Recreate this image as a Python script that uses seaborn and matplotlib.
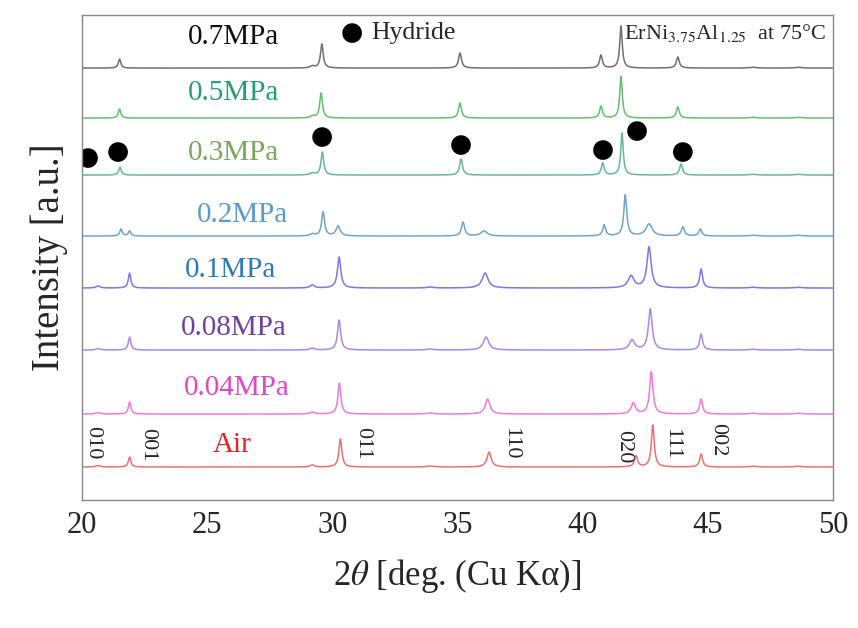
import numpy as np
import pandas as pd
import matplotlib
matplotlib.use("Agg")
import matplotlib.pyplot as plt
import seaborn as sns

sns.set_style("white")
plt.rcParams['font.family'] = 'serif'
plt.rcParams['font.serif'] = ['Liberation Serif', 'DejaVu Serif']
plt.rcParams['mathtext.fontset'] = 'stix'

# ---------------------------------------------------------------------------
# data: peak position (deg), peak height (a.u.), FWHM (deg)
# ---------------------------------------------------------------------------
labels = ['Air', '0.04MPa', '0.08MPa', '0.1MPa', '0.2MPa', '0.3MPa', '0.5MPa', '0.7MPa']
offsets = [33, 86, 150, 212, 264, 325, 382, 432]

peaks_air = [(20.64, 1.5, 0.2), (21.90, 10, 0.12), (29.20, 2, 0.2), (30.32, 28, 0.14),
             (33.90, 1, 0.3), (36.26, 15, 0.2), (42.13, 11, 0.15), (42.80, 42, 0.14),
             (44.73, 13, 0.14), (46.8, 0.8, 0.3), (48.6, 0.8, 0.3)]
peaks_004 = [(20.64, 1.5, 0.2), (21.90, 12, 0.12), (29.20, 2, 0.2), (30.28, 31, 0.14),
             (33.90, 1, 0.3), (36.20, 15, 0.22), (42.02, 11, 0.2), (42.74, 42, 0.16),
             (44.73, 15, 0.14), (46.8, 0.8, 0.3), (48.6, 0.8, 0.3)]
peaks_008 = [(20.64, 1.5, 0.2), (21.90, 13, 0.12), (29.20, 2, 0.2), (30.27, 30, 0.15),
             (33.90, 1, 0.3), (36.14, 13, 0.26), (41.97, 10, 0.25), (42.70, 41, 0.18),
             (44.73, 16, 0.14), (46.8, 0.8, 0.3), (48.6, 0.8, 0.3)]
peaks_01 = [(20.64, 2, 0.2), (21.90, 15, 0.12), (29.20, 3, 0.2), (30.27, 31, 0.16),
            (33.90, 1, 0.3), (36.10, 15, 0.28), (41.93, 12, 0.28), (42.65, 41, 0.2),
            (44.73, 19, 0.14), (46.8, 0.8, 0.3), (48.6, 0.8, 0.3)]
peaks_02 = [(21.56, 7, 0.12), (21.90, 5, 0.12), (29.20, 2, 0.2), (29.63, 24, 0.14),
            (30.23, 10, 0.2), (35.22, 14, 0.15), (36.06, 5, 0.3), (40.86, 11, 0.14),
            (41.70, 41, 0.14), (42.65, 12, 0.3), (44.00, 9, 0.15), (44.70, 7, 0.14),
            (46.8, 0.8, 0.3), (48.6, 0.8, 0.3)]
peaks_03 = [(21.52, 8, 0.12), (29.20, 2, 0.2), (29.60, 23, 0.13), (35.14, 16, 0.14),
            (40.80, 12, 0.13), (41.57, 42, 0.12), (43.93, 11, 0.14),
            (46.8, 0.8, 0.3), (48.6, 0.8, 0.3)]
peaks_05 = [(21.50, 9, 0.12), (29.20, 2, 0.2), (29.55, 25, 0.13), (35.10, 15, 0.14),
            (40.73, 12, 0.13), (41.53, 42, 0.12), (43.80, 11, 0.14),
            (46.8, 0.8, 0.3), (48.6, 0.8, 0.3)]
peaks_07 = [(21.50, 9, 0.12), (29.20, 2, 0.2), (29.58, 24, 0.13), (35.10, 15, 0.14),
            (40.73, 13, 0.13), (41.53, 42, 0.12), (43.80, 11, 0.14),
            (46.8, 0.8, 0.3), (48.6, 0.8, 0.3)]
all_peaks = [peaks_air, peaks_004, peaks_008, peaks_01, peaks_02, peaks_03, peaks_05, peaks_07]

line_colors = ['#f07070', '#f07ae0', '#a888ec', '#7a78ec', '#6fa6c6', '#62b89c', '#62c070', '#707070']
text_colors = ['#e8202a', '#e444c8', '#7040a0', '#2e7ab8', '#5a9ad2', '#78a85a', '#20a070', '#101010']
label_x = [26.0, 26.18, 26.05, 25.93, 26.4, 26.05, 26.07, 26.07]
label_y = [55, 112, 172, 230, 285, 347, 407, 463]

# hydride markers (2theta, height)
dot_x = [20.24, 21.44, 29.59, 35.14, 40.81, 42.17, 44.00]
dot_y = [342, 348, 363, 355, 350, 369, 348]

# Miller indices for the air pattern
hkl = ['010', '001', '011', '110', '020', '111', '002']
hkl_x = [20.44, 22.62, 31.22, 37.12, 41.65, 43.57, 45.37]
hkl_y = [57, 55, 57, 57, 53, 56, 60]

# ---------------------------------------------------------------------------
two_theta = np.arange(20.0, 50.0, 0.01)


def profile(peaks):
    y = np.zeros_like(two_theta)
    for pos, h, w in peaks:
        g = w / 2.0
        y += h * g**2 / ((two_theta - pos)**2 + g**2)
    return y


frames = []
for name, off, pk in zip(labels, offsets, all_peaks):
    frames.append(pd.DataFrame({'two_theta': two_theta,
                                'intensity': profile(pk) + off,
                                'sample': name}))
df = pd.concat(frames, ignore_index=True)

fig = plt.figure(figsize=(8.58, 6.28), dpi=100)
ax = fig.add_axes([0.0956, 0.2038, 0.8753, 0.7722])

sns.lineplot(data=df, x='two_theta', y='intensity', hue='sample',
             palette=dict(zip(labels, line_colors)), linewidth=1.1,
             legend=False, ax=ax, estimator=None, sort=False)

sns.scatterplot(x=dot_x, y=dot_y, color='black', s=200, edgecolor='none', ax=ax)
sns.scatterplot(x=[30.79], y=[467], color='black', s=200, edgecolor='none', ax=ax)

for lab, lx, ly, c in zip(labels, label_x, label_y, text_colors):
    ax.text(lx, ly, lab, color=c, fontsize=21, ha='center', va='center')

for t, hx, hy in zip(hkl, hkl_x, hkl_y):
    ax.text(hx, hy, t, rotation=270, fontsize=16, ha='center', va='center')

ax.text(31.55, 467, 'Hydride', fontsize=18.5, ha='left', va='center')
ax.text(41.65, 467, r'ErNi$_{3.75}$Al$_{1.25}$  at 75°C', fontsize=16,
        ha='left', va='center')

ax.set_xlim(20, 50)
ax.set_ylim(0, 485)
ax.set_xticks([20, 25, 30, 35, 40, 45, 50])
ax.set_yticks([])
ax.tick_params(axis='x', direction='in', length=5, width=0.8, color='#555555',
               labelsize=22, pad=8)
for s in ax.spines.values():
    s.set_color('#888888')
    s.set_linewidth(1.0)

ax.set_xlabel(r'2$\theta$ [deg. (Cu Kα)]', fontsize=25, labelpad=12)
ax.set_ylabel('Intensity [a.u.]', fontsize=28, labelpad=10)

fig.savefig('out.png', dpi=100)
